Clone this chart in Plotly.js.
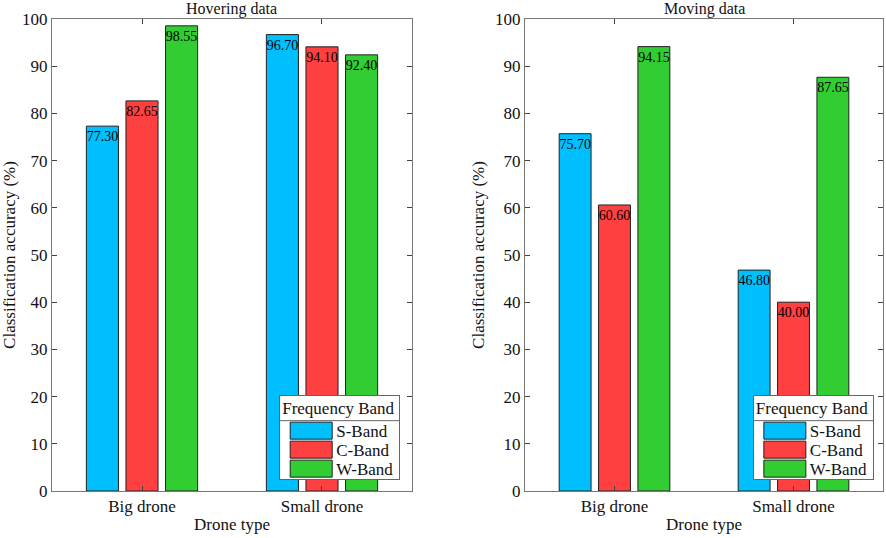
<!DOCTYPE html>
<html>
<head>
<meta charset="utf-8">
<script src="https://cdn.plot.ly/plotly-3.0.1.min.js"></script>
<style>html,body{margin:0;padding:0;background:#fff;}#chart{width:886px;height:538px;}</style>
</head>
<body>
<div id="chart"></div>
<script>
const categories = ['Big drone', 'Small drone'];
const bands = ['S-Band', 'C-Band', 'W-Band'];
const bandColors = ['#00BFFF', '#FF4040', '#32CD32'];
const hoverS = [77.30, 96.70];
const hoverC = [82.65, 94.10];
const hoverW = [98.55, 92.40];
const movingS = [75.70, 46.80];
const movingC = [60.60, 40.00];
const movingW = [94.15, 87.65];
const yTicks = [0, 10, 20, 30, 40, 50, 60, 70, 80, 90, 100];
const panelTitles = ['Hovering data', 'Moving data'];

const FONT = 'Liberation Serif, Times New Roman, serif';
const hoverSeries = [hoverS, hoverC, hoverW];
const movingSeries = [movingS, movingC, movingW];

function makeBar(vals, i, xa, ya, leg) {
  return {
    type: 'bar', x: categories, y: vals, name: bands[i],
    xaxis: xa, yaxis: ya, legend: leg,
    marker: {color: bandColors[i], line: {color: '#222', width: 1}},
    texttemplate: '%{y:.2f}', textposition: 'inside', insidetextanchor: 'end',
    constraintext: 'none', textangle: 0,
    textfont: {family: FONT, size: 14, color: '#000'},
    hoverinfo: 'x+y+name'
  };
}
const traces = [];
hoverSeries.forEach((v, i) => traces.push(makeBar(v, i, 'x', 'y', 'legend')));
movingSeries.forEach((v, i) => traces.push(makeBar(v, i, 'x2', 'y2', 'legend2')));

function xAxis(dom, anchor) {
  return {
    domain: dom, anchor: anchor, type: 'category', range: [-0.5, 1.5],
    showline: true, mirror: 'ticks', linecolor: '#777', linewidth: 1,
    ticks: 'inside', ticklen: 5, tickcolor: '#444',
    showgrid: false, zeroline: false,
    tickfont: {family: FONT, size: 17, color: '#111'},
    title: {text: 'Drone type', font: {family: FONT, size: 17, color: '#111'}, standoff: 2}
  };
}
function yAxis(anchor) {
  return {
    domain: [0, 1], anchor: anchor, range: [0, 100], tickvals: yTicks,
    showline: true, mirror: 'ticks', linecolor: '#777', linewidth: 1,
    ticks: 'inside', ticklen: 5, tickcolor: '#444',
    showgrid: false, zeroline: false,
    tickfont: {family: FONT, size: 17, color: '#111'},
    title: {text: 'Classification accuracy (%)', font: {family: FONT, size: 17, color: '#111'}, standoff: 6}
  };
}
function legendCfg(x) {
  return {
    x: x, y: 0.023, xanchor: 'right', yanchor: 'bottom',
    bgcolor: '#fff', bordercolor: '#666', borderwidth: 1,
    font: {family: FONT, size: 17, color: '#111'},
    title: {text: 'Frequency Band', side: 'top', font: {family: FONT, size: 17, color: '#111'}},
    traceorder: 'normal', itemwidth: 46
  };
}

const layout = {
  width: 886, height: 538,
  margin: {l: 52, r: 3, t: 19, b: 47},
  paper_bgcolor: '#fff', plot_bgcolor: '#fff',
  font: {family: FONT, color: '#111'},
  barmode: 'group', bargap: 0.34, bargroupgap: 0.19,
  xaxis: xAxis([0, 0.4332], 'y'),
  yaxis: yAxis('x'),
  xaxis2: xAxis([0.5692, 1], 'y2'),
  yaxis2: yAxis('x2'),
  legend: legendCfg(0.419),
  legend2: legendCfg(0.989),
  annotations: [
    {text: panelTitles[0], xref: 'x domain', yref: 'paper', x: 0.5, y: 1, yanchor: 'bottom', showarrow: false, font: {family: FONT, size: 16, color: '#111'}, yshift: -1},
    {text: panelTitles[1], xref: 'x2 domain', yref: 'paper', x: 0.5, y: 1, yanchor: 'bottom', showarrow: false, font: {family: FONT, size: 16, color: '#111'}, yshift: -1}
  ],
  showlegend: true
};

const SVGNS = 'http://www.w3.org/2000/svg';
const TR = /translate\(\s*([-\d.e]+)[\s,]+([-\d.e]+)\s*\)/;
function shiftY(el, d) {
  const m = TR.exec(el.getAttribute('transform') || 'translate(0,0)');
  const x = m ? m[1] : 0, y = m ? parseFloat(m[2]) : 0;
  el.setAttribute('transform', 'translate(' + x + ',' + (y + d) + ')');
}
function compactLegend(lg) {
  const bg = lg.querySelector('rect.bg');
  if (!bg) return;
  const H = parseFloat(bg.getAttribute('height'));
  const W = parseFloat(bg.getAttribute('width'));
  const bx = parseFloat(bg.getAttribute('x') || 0);
  const by = parseFloat(bg.getAttribute('y') || 0);
  const newH = 84, titleRow = 25, rowH = 19;
  const title = lg.querySelector('text[class$="titletext"]');
  const items = Array.from(lg.querySelectorAll('g.traces'));
  const paths = items.map(tr => tr.querySelector('.legendpoints path'));
  bg.setAttribute('height', newH);
  shiftY(lg, H - newH);
  paths.forEach(p => {
    p.setAttribute('d', 'M-18,-8.5H24V8.5H-18Z');
    p.style.strokeWidth = '1px';
    p.style.stroke = '#222';
  });
  for (let pass = 0; pass < 2; pass++) {
    const top = bg.getBoundingClientRect().top;
    if (title) {
      const tb = title.getBoundingClientRect();
      const d = titleRow / 2 + 0.5 - ((tb.top + tb.bottom) / 2 - top);
      title.setAttribute('y', parseFloat(title.getAttribute('y') || 0) + d);
    }
    items.forEach((tr, i) => {
      const pb = paths[i].getBoundingClientRect();
      const d = (titleRow + rowH * 0.5 + 0.5 + rowH * i) - ((pb.top + pb.bottom) / 2 - top);
      shiftY(tr, d);
    });
  }
  const line = document.createElementNS(SVGNS, 'line');
  line.setAttribute('x1', bx); line.setAttribute('x2', bx + W);
  line.setAttribute('y1', by + titleRow); line.setAttribute('y2', by + titleRow);
  line.setAttribute('stroke', '#666'); line.setAttribute('stroke-width', '1');
  lg.appendChild(line);
}

const gd = document.getElementById('chart');
Plotly.newPlot(gd, traces, layout, {displayModeBar: false, staticPlot: true}).then(() => {
  gd.querySelectorAll('.infolayer > g').forEach(g => {
    const cls = g.getAttribute('class') || '';
    if (/^legend\d*$/.test(cls)) compactLegend(g);
  });
});
</script>
</body>
</html>
